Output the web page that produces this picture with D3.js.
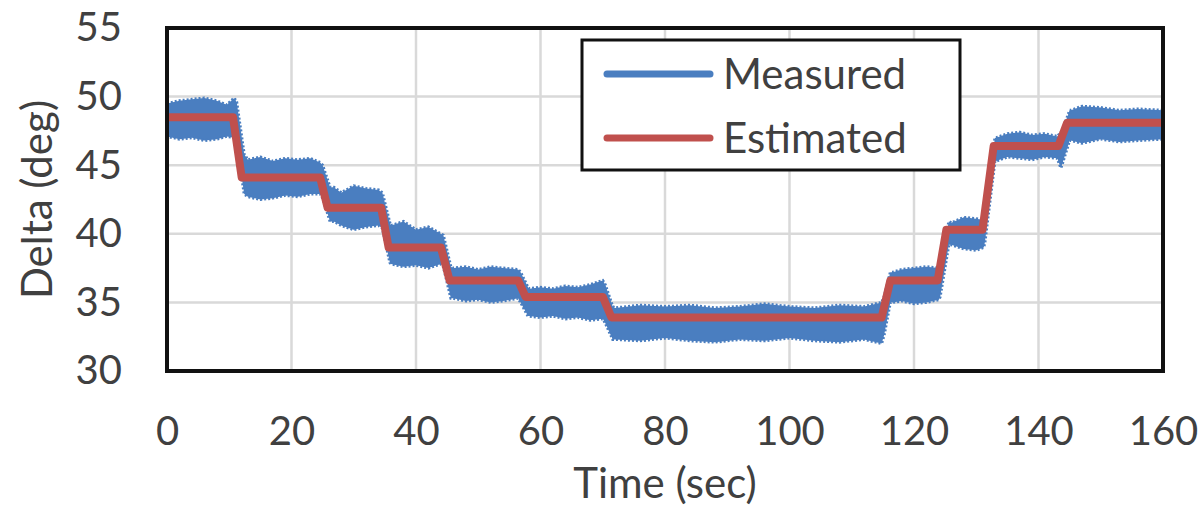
<!DOCTYPE html>
<html lang="en">
<head>
    <meta charset="UTF-8">
    <title>Delta</title>
    <script src="https://cdn.jsdelivr.net/npm/d3@7/dist/d3.min.js"></script>
    <style>
        body { margin: 0; background: #fff; }
        text { font-family: Lato, "Open Sans", sans-serif; fill: #404040; }
        .grid line { stroke: #d9d9d9; stroke-width: 2.5px; }
        .axis path, .axis line { display: none; }
        .axis text { font-size: 40px; fill: #404040; }
    </style>
</head>
<body>
<script>
    // estimated angle (red), step levels
    var estTime  = [0, 10.6, 12.0, 24.6, 25.8, 34.4, 35.6, 44.0, 45.4, 56.4, 57.6, 70.0, 71.4, 114.8, 116.2, 123.8, 125.2, 131.0, 132.8, 143.2, 144.6, 160];
    var estValue = [48.5, 48.5, 44.1, 44.1, 41.9, 41.9, 39.0, 39.0, 36.6, 36.6, 35.4, 35.4, 33.9, 33.9, 36.6, 36.6, 40.3, 40.3, 46.4, 46.4, 48.1, 48.1];

    // measured angle (blue), upper / lower edge of the noisy band
    var measTime = [0, 2, 4, 6, 8, 9.6, 10.8, 11.2, 12.4,
        13, 15, 17, 19, 21, 23, 24.6, 25.0, 26.2,
        26.8, 28, 30, 32, 34, 34.6, 35.8,
        36, 38, 40, 42, 44, 44.4, 45.6,
        46, 48, 50, 52, 54, 56.4, 56.8, 58.0,
        58.2, 60, 62, 64, 66, 68, 70, 70.4, 71.6,
        72, 76, 80, 84, 88, 92, 96, 100, 104, 108, 112, 114.8, 115.2, 116.2,
        116.6, 118, 120, 122, 124, 124.2, 125.6,
        126, 128, 130, 131.2, 131.4, 133.0,
        133.2, 135, 137, 139, 141, 143, 143.6, 143.9, 145.0,
        145.2, 147, 150, 153, 156, 160];
    var measHigh = [49.5, 49.7, 49.8, 49.9, 49.7, 49.4, 49.9, 49.6, 45.8,
        45.4, 45.6, 45.3, 45.5, 45.4, 45.5, 45.2, 45.0, 43.4,
        43.4, 43.0, 43.5, 43.3, 43.2, 43.0, 40.8,
        40.6, 40.9, 40.3, 40.5, 40.0, 39.9, 37.6,
        37.5, 37.6, 37.4, 37.6, 37.5, 37.4, 37.2, 36.1,
        36.0, 36.1, 36.0, 36.2, 36.1, 36.3, 36.6, 36.3, 34.7,
        34.6, 34.8, 34.7, 34.8, 34.6, 34.7, 34.9, 34.7, 34.6, 34.8, 34.7, 35.0, 35.4, 37.2,
        37.2, 37.4, 37.5, 37.6, 37.5, 37.8, 40.9,
        40.8, 41.2, 41.1, 41.0, 41.4, 47.0,
        47.0, 47.3, 47.4, 47.2, 47.3, 47.1, 47.4, 47.6, 49.0,
        49.0, 49.3, 49.2, 49.0, 49.1, 49.0];
    var measLow = [47.1, 46.9, 47.0, 46.8, 46.9, 47.1, 47.0, 46.6, 42.9,
        42.7, 42.5, 42.6, 42.8, 42.7, 42.9, 42.9, 42.6, 40.9,
        40.9, 40.6, 40.3, 40.5, 40.6, 40.4, 37.9,
        37.8, 37.6, 37.7, 37.5, 37.8, 37.6, 35.3,
        35.3, 35.1, 35.2, 35.0, 35.1, 35.3, 35.0, 34.0,
        34.0, 33.9, 34.0, 33.8, 33.9, 33.7, 33.8, 33.5, 32.3,
        32.3, 32.2, 32.4, 32.2, 32.1, 32.3, 32.2, 32.4, 32.2, 32.1, 32.3, 32.0, 32.6, 35.0,
        35.0, 35.1, 34.9, 35.0, 35.2, 35.4, 39.2,
        39.2, 38.9, 38.8, 39.0, 39.4, 45.3,
        45.3, 45.6, 45.5, 45.4, 45.6, 45.5, 44.8, 45.2, 46.8,
        46.8, 46.6, 46.9, 46.7, 46.8, 46.9];

    var xTicks = [0, 20, 40, 60, 80, 100, 120, 140, 160];
    var yTicks = [30, 35, 40, 45, 50, 55];
    var seriesNames = ["Measured", "Estimated"];
    var seriesColors = ["#4a7ec0", "#c0504d"];

    var margin = {top: 28, right: 36, bottom: 155, left: 167},
        width = 1199 - margin.left - margin.right,
        height = 526 - margin.top - margin.bottom;

    var x = d3.scaleLinear().domain([0, 160]).range([0, width]);
    var y = d3.scaleLinear().domain([30, 55]).range([height, 0]);

    var svg = d3.select("body").append("svg")
        .attr("width", 1199)
        .attr("height", 526)
        .append("g")
        .attr("transform", "translate(" + margin.left + "," + margin.top + ")");

    // grid
    var grid = svg.append("g").attr("class", "grid");
    grid.selectAll(".vx").data(xTicks).enter().append("line")
        .attr("x1", function(d) { return x(d); })
        .attr("x2", function(d) { return x(d); })
        .attr("y1", 0).attr("y2", height);
    grid.selectAll(".hy").data(yTicks).enter().append("line")
        .attr("y1", function(d) { return y(d); })
        .attr("y2", function(d) { return y(d); })
        .attr("x1", 0).attr("x2", width);

    // measured band
    var meas = measTime.map(function(t, i) { return {t: t, hi: measHigh[i], lo: measLow[i]}; });
    var band = d3.area()
        .x(function(d) { return x(d.t); })
        .y0(function(d) { return y(d.lo); })
        .y1(function(d) { return y(d.hi); });
    svg.append("path")
        .datum(meas)
        .attr("d", band)
        .style("fill", seriesColors[0])
        .style("stroke", seriesColors[0])
        .style("stroke-width", 3)
        .style("stroke-dasharray", "2,2");

    // estimated line
    var est = estTime.map(function(t, i) { return {t: t, v: estValue[i]}; });
    var estLine = d3.line()
        .x(function(d) { return x(d.t); })
        .y(function(d) { return y(d.v); });
    svg.append("path")
        .datum(est)
        .attr("d", estLine)
        .style("fill", "none")
        .style("stroke", seriesColors[1])
        .style("stroke-width", 8)
        .style("stroke-linejoin", "round");

    // plot border
    svg.append("rect")
        .attr("width", width).attr("height", height)
        .style("fill", "none")
        .style("stroke", "#111")
        .style("stroke-width", 4);

    // axes
    svg.append("g")
        .attr("class", "axis")
        .attr("transform", "translate(0," + height + ")")
        .call(d3.axisBottom(x).tickValues(xTicks).tickSize(0).tickPadding(46));

    svg.append("g")
        .attr("class", "axis")
        .call(d3.axisLeft(y).tickValues(yTicks).tickSize(0).tickPadding(45));

    svg.append("text")
        .attr("x", width / 2)
        .attr("y", height + 127)
        .style("text-anchor", "middle")
        .style("font-size", "42px")
        .text("Time (sec)");

    svg.append("text")
        .attr("transform", "rotate(-90)")
        .attr("x", -height / 2)
        .attr("y", -130)
        .attr("dy", "0.35em")
        .style("text-anchor", "middle")
        .style("font-size", "42px")
        .text("Delta (deg)");

    // legend
    var legend = svg.append("g").attr("transform", "translate(415,12)");
    legend.append("rect")
        .attr("width", 378).attr("height", 130)
        .style("fill", "#fff")
        .style("stroke", "#111")
        .style("stroke-width", 3);
    var item = legend.selectAll(".item").data(seriesNames).enter().append("g")
        .attr("transform", function(d, i) { return "translate(0," + (34 + i * 64) + ")"; });
    item.append("line")
        .attr("x1", 25).attr("x2", 128)
        .style("stroke", function(d, i) { return seriesColors[i]; })
        .style("stroke-width", 7)
        .style("stroke-linecap", "round");
    item.append("text")
        .attr("x", 141)
        .attr("dy", "0.36em")
        .style("font-size", "42px")
        .text(function(d) { return d; });
</script>
</body>
</html>
